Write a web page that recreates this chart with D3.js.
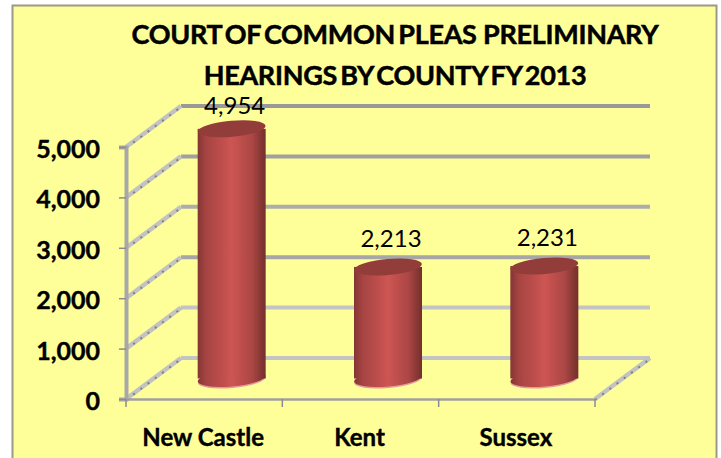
<!DOCTYPE html>
<html>
<head>
<meta charset="utf-8">
<script src="https://cdn.jsdelivr.net/npm/d3@7"></script>
<style>
html, body { margin: 0; padding: 0; background: #fff; }
svg { display: block; }
text { font-family: Lato, "Open Sans", sans-serif; fill: #000; }
</style>
</head>
<body>
<svg id="chart" width="721" height="458"></svg>
<script>
var categories = ["New Castle", "Kent", "Sussex"];
var hearings = [4954, 2213, 2231];
var yTicks = [0, 1000, 2000, 3000, 4000, 5000];
var gridColors = ["#c4c4c4", "#c4c4c4", "#a6a6a6", "#adadad", "#a0a0a0", "#999999"];
var titleLines = ["COURT OF COMMON PLEAS  PRELIMINARY", "HEARINGS BY COUNTY FY 2013"];

// front plane of the 3d box, the back wall is shifted by depth
var depth = {x: 55, y: -41};
var plot = {left: 126, right: 595, top: 147, bottom: 399};

var svg = d3.select("#chart");

var x = d3.scaleBand()
    .domain(categories)
    .range([plot.left, plot.right]);

var y = d3.scaleLinear()
    .domain([0, 5000])
    .range([plot.bottom, plot.top]);

var fmt = d3.format(",");

// background panel
svg.append("rect")
    .attr("x", 12.5)
    .attr("y", 5.5)
    .attr("width", 704)
    .attr("height", 470)
    .attr("fill", "#ffff99")
    .attr("stroke", "#9a9a8a")
    .attr("stroke-width", 2);

var defs = svg.append("defs");

var side = defs.append("linearGradient").attr("id", "cylSide");
[["0%", "#843533"], ["12%", "#a54442"], ["50%", "#cd5553"], ["80%", "#ab4745"], ["100%", "#742e2c"]].forEach(function(s) {
  side.append("stop").attr("offset", s[0]).attr("stop-color", s[1]);
});

var soft = defs.append("filter").attr("id", "soft")
    .attr("x", "-5%").attr("y", "-5%").attr("width", "110%").attr("height", "110%");
soft.append("feGaussianBlur").attr("stdDeviation", 0.6);

// gridlines on the back wall and the receding lines on the side wall
var grid = svg.append("g").attr("filter", "url(#soft)");

grid.selectAll(".wall")
    .data(yTicks)
  .enter().append("line")
    .attr("class", "wall")
    .attr("x1", plot.left + depth.x)
    .attr("x2", plot.right + depth.x)
    .attr("y1", function(d) { return y(d) + depth.y; })
    .attr("y2", function(d) { return y(d) + depth.y; })
    .attr("stroke", function(d, i) { return gridColors[i]; })
    .attr("stroke-width", 4);

grid.selectAll(".side")
    .data(yTicks)
  .enter().append("line")
    .attr("class", "side")
    .attr("x1", plot.left)
    .attr("x2", plot.left + depth.x)
    .attr("y1", function(d) { return y(d); })
    .attr("y2", function(d) { return y(d) + depth.y; })
    .attr("stroke", "#c2c2c2")
    .attr("stroke-width", 4.5);

grid.selectAll(".sideDash")
    .data(yTicks)
  .enter().append("line")
    .attr("class", "sideDash")
    .attr("x1", plot.left)
    .attr("x2", plot.left + depth.x)
    .attr("y1", function(d) { return y(d) + 1; })
    .attr("y2", function(d) { return y(d) + depth.y + 1; })
    .attr("stroke", "#808080")
    .attr("stroke-width", 2)
    .attr("stroke-dasharray", "2 7");

// floor edge on the right
grid.append("line")
    .attr("x1", plot.right)
    .attr("x2", plot.right + depth.x)
    .attr("y1", y(0))
    .attr("y2", y(0) + depth.y)
    .attr("stroke", "#c2c2c2")
    .attr("stroke-width", 4.5);

grid.append("line")
    .attr("x1", plot.right)
    .attr("x2", plot.right + depth.x)
    .attr("y1", y(0) + 1)
    .attr("y2", y(0) + depth.y + 1)
    .attr("stroke", "#808080")
    .attr("stroke-width", 2)
    .attr("stroke-dasharray", "2 7");

// axes
var yAxis = d3.axisLeft(y)
    .tickValues(yTicks)
    .tickFormat(fmt)
    .tickSize(7)
    .tickPadding(19);

var xAxis = d3.axisBottom(x)
    .tickValues([])
    .tickSize(0);

var gy = svg.append("g")
    .attr("transform", "translate(" + plot.left + ",0)")
    .call(yAxis);

gy.select(".domain").attr("stroke", "#a8a8a8").attr("stroke-width", 4);
gy.selectAll(".tick line").attr("stroke", "#8c8c8c").attr("stroke-width", 1.5);
gy.selectAll("text")
    .attr("dy", "0.42em")
    .attr("stroke", "#000")
    .attr("stroke-width", 0.4)
    .style("font-family", "Lato, sans-serif")
    .style("font-size", "25px")
    .style("font-weight", "700")
    .attr("fill", "#000");

var gx = svg.append("g")
    .attr("transform", "translate(0," + plot.bottom + ")")
    .call(xAxis);

gx.select(".domain").attr("stroke", "#a0a0a0").attr("stroke-width", 2.5);

// tick marks between categories
gx.selectAll(".sep")
    .data(categories.concat(["end"]))
  .enter().append("line")
    .attr("class", "sep")
    .attr("x1", function(d, i) { return plot.left + i * x.step(); })
    .attr("x2", function(d, i) { return plot.left + i * x.step(); })
    .attr("y1", 0)
    .attr("y2", 8)
    .attr("stroke", "#8c8c8c")
    .attr("stroke-width", 1.5);

gx.selectAll(".cat")
    .data(categories)
  .enter().append("text")
    .attr("class", "cat")
    .attr("x", function(d) { return x(d) + x.bandwidth() / 2 - 1; })
    .attr("y", 47)
    .attr("text-anchor", "middle")
    .attr("stroke", "#000")
    .attr("stroke-width", 0.4)
    .style("font-size", "24px")
    .style("font-weight", "700")
    .text(function(d) { return d; });

// cylinders
var barRx = 34, barRy = 8, tilt = -5;

var bars = svg.selectAll(".bar")
    .data(hearings)
  .enter().append("g")
    .attr("class", "bar")
    .attr("filter", "url(#soft)")
    .attr("transform", function(d, i) {
      return "translate(" + (x(categories[i]) + x.bandwidth() / 2 + depth.x / 2) + ",0)";
    });

function midY(v) { return y(v) + depth.y / 2; }

// pale rim under the base
bars.append("ellipse")
    .attr("cy", midY(0) + 1.5)
    .attr("rx", barRx)
    .attr("ry", barRy)
    .attr("transform", "rotate(" + tilt + ",0," + (midY(0) + 1.5) + ")")
    .attr("fill", "#e59a9a");

bars.append("ellipse")
    .attr("cy", midY(0))
    .attr("rx", barRx)
    .attr("ry", barRy)
    .attr("transform", "rotate(" + tilt + ",0," + midY(0) + ")")
    .attr("fill", "url(#cylSide)");

bars.append("rect")
    .attr("x", -barRx)
    .attr("width", 2 * barRx)
    .attr("y", function(d) { return midY(d); })
    .attr("height", function(d) { return midY(0) - midY(d); })
    .attr("fill", "url(#cylSide)");

bars.append("ellipse")
    .attr("cy", function(d) { return midY(d); })
    .attr("rx", barRx)
    .attr("ry", barRy)
    .attr("transform", function(d) { return "rotate(" + tilt + ",0," + midY(d) + ")"; })
    .attr("fill", "#933c3a");

// value labels, the tallest one is squeezed under the title
svg.selectAll(".val")
    .data(hearings)
  .enter().append("text")
    .attr("class", "val")
    .attr("x", function(d, i) { return x(categories[i]) + x.bandwidth() / 2 + depth.x / 2 + 3; })
    .attr("y", function(d) { return midY(d) - (d > 4000 ? 15 : 20); })
    .attr("text-anchor", "middle")
    .style("font-size", "24px")
    .style("font-family", "Lato, sans-serif")
    .text(function(d) { return fmt(d); });

// title
svg.selectAll(".title")
    .data(titleLines)
  .enter().append("text")
    .attr("class", "title")
    .attr("x", 395)
    .attr("y", function(d, i) { return 44 + i * 41; })
    .attr("text-anchor", "middle")
    .attr("stroke", "#000")
    .attr("stroke-width", 0.5)
    .style("font-size", "27px")
    .style("font-weight", "700")
    .style("white-space", "pre")
    .style("word-spacing", "-3px")
    .style("letter-spacing", "-0.3px")
    .text(function(d) { return d; });
</script>
</body>
</html>
